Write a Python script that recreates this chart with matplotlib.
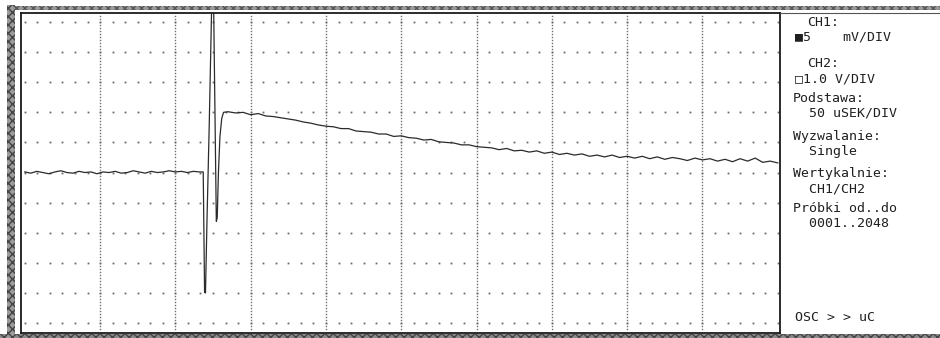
import numpy as np
import matplotlib
matplotlib.use('Agg')
import matplotlib.pyplot as plt
from matplotlib.patches import Rectangle
from matplotlib.lines import Line2D

# CH1 trace, time in microseconds (50 uSEK/DIV), voltage in mV (5 mV/DIV)
t_base = [0, 4, 8, 12, 16, 20, 24, 28, 32, 36, 40, 44, 48, 52, 56, 60, 64, 68,
          72, 76, 80, 84, 88, 92, 96, 100, 104, 108, 112, 116]
v_base = [0.1, -0.1, 0.2, 0.0, -0.2, 0.1, 0.3, 0.0, -0.1, 0.2, 0.0, 0.1, -0.2, 0.1,
          0.0, 0.2, -0.1, 0.0, 0.3, 0.1, -0.1, 0.2, 0.0, 0.1, 0.3, 0.1, 0.2, 0.0, 0.2, 0.1]

t_spike = [118.5, 119.4, 120.0, 121.0, 122.5, 124.3, 125.3, 127.2, 127.8, 128.6,
           129.6, 130.8, 132.0]
v_spike = [0.1, -19.9, -20.0, -8.0, 8.0, 30.0, 30.0, -8.1, -7.5, 0.0, 6.0, 9.0, 10.0]

t_decay = [135, 140, 145, 150, 155, 160, 165, 170, 175, 180, 185, 190, 195, 200,
           205, 210, 215, 220, 225, 230, 235, 240, 245, 250, 255, 260, 265, 270,
           275, 280, 285, 290, 295, 300, 305, 310, 315, 320, 325, 330, 335, 340,
           345, 350, 355, 360, 365, 370, 375, 380, 385, 390, 395, 400, 405, 410,
           415, 420, 425, 430, 435, 440, 445, 450, 455, 460, 465, 470, 475, 480,
           485, 490, 495, 500]
v_decay = [10.1, 9.9, 10.0, 9.6, 9.8, 9.4, 9.3, 9.1, 8.9, 8.7, 8.4, 8.2, 7.9, 7.7,
           7.6, 7.3, 7.3, 6.9, 6.8, 6.7, 6.4, 6.4, 6.0, 6.1, 5.8, 5.7, 5.4, 5.5,
           5.1, 5.0, 4.9, 4.6, 4.6, 4.3, 4.2, 4.1, 3.8, 4.0, 3.6, 3.7, 3.4, 3.6,
           3.2, 3.4, 3.0, 3.2, 2.9, 3.1, 2.7, 2.9, 2.6, 2.9, 2.5, 2.7, 2.4, 2.7,
           2.3, 2.6, 2.2, 2.5, 2.3, 2.0, 2.4, 2.1, 2.3, 1.9, 2.2, 1.8, 2.3, 1.9,
           2.4, 1.7, 1.9, 1.6]

panel_lines = [
    ("CH1:", 807, 16),
    ("\u25a05    mV/DIV", 795, 30),
    ("CH2:", 807, 57),
    ("\u25a11.0 V/DIV", 795, 72),
    ("Podstawa:", 793, 92),
    ("  50 uSEK/DIV", 793, 107),
    ("Wyzwalanie:", 793, 130),
    ("  Single", 793, 145),
    ("Wertykalnie:", 793, 167),
    ("  CH1/CH2", 793, 182),
    ("Próbki od..do", 793, 202),
    ("  0001..2048", 793, 217),
    ("OSC > > uC", 795, 311),
]

W, H = 940, 338
fig = plt.figure(figsize=(W / 100, H / 100), dpi=100)
fig.patch.set_facecolor('white')

ax = fig.add_axes([20.7 / W, 1 - 332.7 / H, (780 - 20.7) / W, (332.7 - 13) / H])
ax.set_xlim(-2.7, 501.5)
ax.set_ylim(-26.6, 26.5)
ax.set_xticks([])
ax.set_yticks([])
for s in ax.spines.values():
    s.set_color('#1a1a1a')
    s.set_linewidth(1.3)

# graticule: dotted verticals every division, dot rows every division
for k in range(1, 10):
    yy = np.arange(-26, 26.5, 0.5)
    ax.plot(np.full_like(yy, 50 * k), yy, ls='none', marker='s', ms=1.0,
            mec='none', mfc='#6e6e6e')
for k in range(-5, 6):
    xx = np.arange(0, 501, 50 / 6)
    ax.plot(xx, np.full_like(xx, 5 * k), ls='none', marker='s', ms=1.3,
            mec='none', mfc='#6a6a6a')

t = t_base + t_spike + t_decay
v = v_base + v_spike + v_decay
ax.plot(t, v, color='#2b2b2b', lw=0.9)

# printout border bands
fig.patches.append(Rectangle((10 / W, 1 - 10 / H), (W - 10) / W, 4 / H,
                             transform=fig.transFigure, fc='#9a9a9a',
                             ec='#555555', hatch='xxxx', lw=0))
fig.patches.append(Rectangle((0, 0), 1, 4 / H, transform=fig.transFigure,
                             fc='#8a8a8a', ec='#444444', hatch='xxxx', lw=0))
fig.patches.append(Rectangle((7 / W, 0), 8 / W, 1 - 5 / H,
                             transform=fig.transFigure, fc='#9a9a9a',
                             ec='#444444', hatch='xxxx', lw=0))
fig.lines.append(Line2D([780 / W, 1], [1 - 13 / H, 1 - 13 / H],
                        transform=fig.transFigure, color='#555555', lw=0.8))

for txt, px, py in panel_lines:
    fig.text(px / W, 1 - py / H, txt, ha='left', va='top', fontsize=9.5,
             family=['DejaVu Sans Mono', 'DejaVu Sans'], color='#202020')

plt.savefig('out.png', dpi=100)
